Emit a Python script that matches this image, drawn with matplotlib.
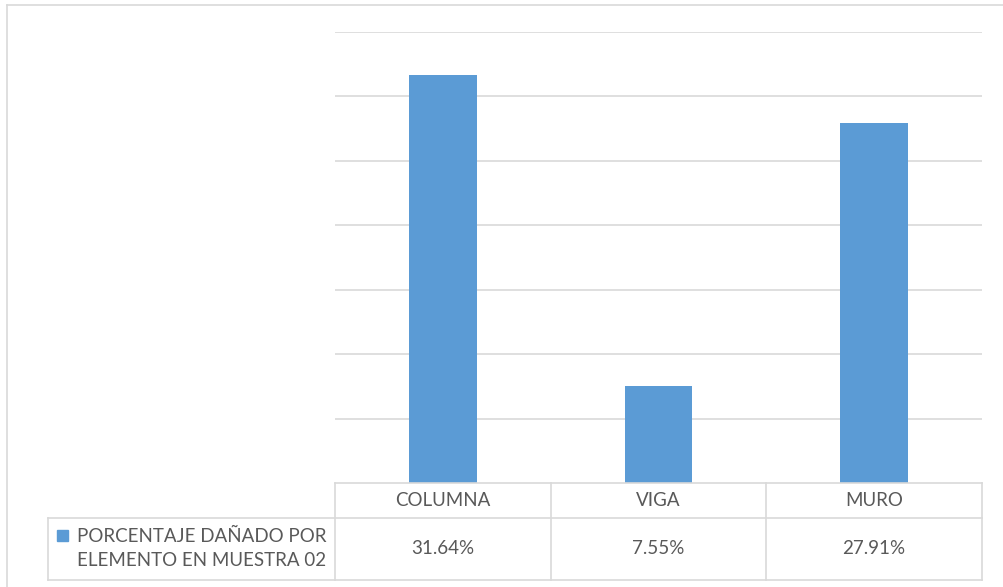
import matplotlib
matplotlib.use("Agg")
import matplotlib.pyplot as plt
from matplotlib.lines import Line2D
from matplotlib.patches import Rectangle

categories = ["COLUMNA", "VIGA", "MURO"]
values = [31.64, 7.55, 27.91]
value_labels = ["31.64%", "7.55%", "27.91%"]
series_name = "PORCENTAJE DAÑADO POR\nELEMENTO EN MUESTRA 02"

W, H = 1004, 587
fig = plt.figure(figsize=(W / 100, H / 100), dpi=100)
plt.rcParams['font.family'] = ['Lato', 'DejaVu Sans']

BAR = "#5b9bd5"
GRID = "#d9d9d9"
TXT = "#595959"

def fx(px):
    return px / W

def fy(py):
    return 1 - py / H

x0, x1 = 335, 982
y_base, y_top = 483, 31.5
ax = fig.add_axes([fx(x0), fy(y_base), fx(x1) - fx(x0), fy(y_top) - fy(y_base)])
ax.set_xlim(-0.5, len(categories) - 0.5)
ax.set_ylim(0, 35)
ax.bar(range(len(categories)), values, width=0.315, color=BAR, zorder=3)
ax.set_yticks(range(5, 36, 5))
ax.yaxis.grid(True, color=GRID, linewidth=1.2)
ax.set_axisbelow(True)
ax.tick_params(left=False, bottom=False, labelleft=False, labelbottom=False)
for s in ax.spines.values():
    s.set_visible(False)

def hline(y, xa, xb):
    fig.add_artist(Line2D([fx(xa), fx(xb)], [fy(y), fy(y)], color=GRID, lw=1.2))

def vline(x, ya, yb):
    fig.add_artist(Line2D([fx(x), fx(x)], [fy(ya), fy(yb)], color=GRID, lw=1.2))

# outer chart frame (top and left visible)
hline(5, 7, W)
vline(7, 5, H)

# data table
row_mid, row_bot = 518, 580
legend_left = 48
hline(y_base, x0, x1)
hline(row_mid, legend_left, x1)
hline(row_bot, legend_left, x1)
vline(legend_left, row_mid, row_bot)
ncat = len(categories)
cw = (x1 - x0) / ncat
for i in range(ncat + 1):
    vline(x0 + i * cw, y_base, row_bot)

FS = 13.5
for i, (c, v) in enumerate(zip(categories, value_labels)):
    cx = x0 + (i + 0.5) * cw
    fig.text(fx(cx), fy((y_base + row_mid) / 2), c, ha="center", va="center",
             fontsize=FS, color=TXT)
    fig.text(fx(cx), fy((row_mid + row_bot) / 2), v, ha="center", va="center",
             fontsize=FS, color=TXT)

# legend key and series name
fig.add_artist(Rectangle((fx(57), fy(541)), fx(11), fy(530) - fy(541),
                         color=BAR, transform=fig.transFigure))
fig.text(fx(202), fy((row_mid + row_bot) / 2 - 0.5), series_name, ha="center", va="center",
         fontsize=FS, color=TXT, linespacing=1.45, multialignment="center")

fig.savefig("out.png", dpi=100)
